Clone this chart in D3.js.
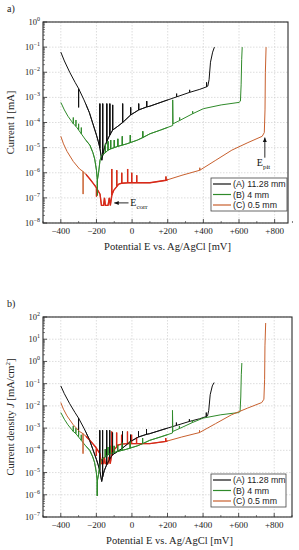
<!DOCTYPE html>
<html>
<head>
<meta charset="utf-8">
<script src="https://cdn.jsdelivr.net/npm/d3@7"></script>
<style>
  body { margin: 0; background: #fff; }
</style>
</head>
<body>
<svg id="chart" width="299" height="550"></svg>
<script>
// potentials in mV vs Ag/AgCl, currents stored as log10 values
const eA = [-400,-380,-350,-320,-300,-300,-300,-270,-240,-220,-200,-190,-181,-181,-181,-170,-165,-165,-165,-155,-142,-142,-142,-125,-125,-125,-109,-109,-109,-80,-53,-53,-53,-8,-8,-8,37,37,37,82,82,82,100,180,250,250,250,323,323,323,380,418,418,418,425,432,440,452,462];
const logIA = [-1.2,-1.55,-2.0,-2.4,-2.65,-3.4,-2.65,-3.1,-3.6,-4.05,-4.5,-4.75,-5.0,-3.25,-5.0,-5.5,-5.3,-3.25,-5.3,-5.0,-4.75,-3.25,-4.75,-4.5,-3.25,-4.5,-4.3,-3.3,-4.3,-4.15,-4.0,-3.25,-4.0,-3.7,-3.4,-3.7,-3.5,-3.25,-3.5,-3.38,-3.15,-3.38,-3.35,-3.15,-2.98,-2.85,-2.98,-2.8,-2.7,-2.8,-2.68,-2.58,-2.4,-2.58,-2.55,-2.3,-1.6,-1.2,-1.0];
const logJA = [-1.1,-1.45,-1.9,-2.3,-2.55,-3.3,-2.55,-3.0,-3.5,-3.95,-4.4,-4.65,-4.9,-3.1,-4.9,-5.4,-5.2,-3.1,-5.2,-4.9,-4.65,-3.1,-4.65,-4.4,-3.1,-4.4,-4.2,-3.2,-4.2,-4.05,-3.9,-3.15,-3.9,-3.6,-3.3,-3.6,-3.4,-3.15,-3.4,-3.28,-3.05,-3.28,-3.25,-3.05,-2.88,-2.75,-2.88,-2.7,-2.6,-2.7,-2.58,-2.48,-2.3,-2.48,-2.45,-2.2,-1.5,-1.1,-0.95];

const eB = [-400,-380,-360,-340,-330,-330,-330,-315,-315,-315,-300,-300,-300,-285,-285,-285,-260,-237,-220,-210,-200,-195,-195,-195,-188,-180,-170,-150,-150,-150,-135,-135,-135,-120,-120,-120,-100,-100,-100,-80,-80,-80,-55,-55,-55,-30,-10,-10,-10,30,60,60,60,100,160,228,228,230,267,267,267,340,340,340,400,500,600,608,612,615,618];
const logIB = [-3.2,-3.5,-3.75,-3.95,-4.05,-3.8,-4.05,-4.15,-3.9,-4.15,-4.3,-4.05,-4.3,-4.45,-4.2,-4.45,-4.7,-4.9,-5.2,-5.45,-5.9,-6.3,-6.9,-6.3,-6.0,-5.5,-5.3,-5.2,-4.85,-5.2,-5.1,-4.75,-5.1,-5.05,-4.7,-5.05,-5.0,-4.7,-5.0,-4.95,-4.65,-4.95,-4.9,-4.55,-4.9,-4.85,-4.8,-4.5,-4.8,-4.7,-4.6,-4.35,-4.6,-4.45,-4.3,-4.12,-3.1,-4.05,-3.92,-3.8,-3.92,-3.65,-3.55,-3.65,-3.45,-3.3,-3.2,-3.15,-2.5,-1.5,-1.0];
const logJB = [-2.3,-2.6,-2.85,-3.05,-3.15,-2.9,-3.15,-3.25,-3.0,-3.25,-3.4,-3.15,-3.4,-3.55,-3.3,-3.55,-3.8,-4.0,-4.3,-4.55,-5.0,-5.4,-6.05,-5.4,-5.1,-4.6,-4.4,-4.3,-3.95,-4.3,-4.2,-3.85,-4.2,-4.15,-3.8,-4.15,-4.1,-3.8,-4.1,-4.05,-3.75,-4.05,-4.0,-3.65,-4.0,-3.95,-3.9,-3.6,-3.9,-3.8,-3.7,-3.45,-3.7,-3.55,-3.4,-3.22,-2.2,-3.15,-3.02,-2.9,-3.02,-2.75,-2.65,-2.75,-2.55,-2.4,-2.3,-2.25,-1.6,-0.6,-0.07];

const eC = [-400,-385,-365,-330,-295,-275,-275,-275,-255,-237,-215,-200,-200,-200,-180,-172,-160,-155,-150,-135,-128,-122,-114,-114,-114,-103,-86,-86,-86,-75,-58,-58,-58,-25,-25,-25,-2,-2,-2,26,26,26,60,100,190,190,190,280,380,380,380,470,560,650,730,742,746,748,752];
const logIC = [-4.55,-4.85,-5.15,-5.55,-5.85,-5.95,-6.85,-5.95,-6.1,-6.25,-6.45,-6.6,-6.95,-6.6,-6.85,-7.3,-7.3,-7.0,-7.3,-7.3,-7.0,-7.3,-6.9,-5.85,-6.9,-6.7,-6.55,-5.9,-6.55,-6.45,-6.42,-6.0,-6.42,-6.4,-5.85,-6.4,-6.4,-6.0,-6.4,-6.4,-6.1,-6.4,-6.4,-6.4,-6.3,-6.15,-6.3,-6.1,-5.9,-5.8,-5.9,-5.5,-5.1,-4.8,-4.55,-4.4,-3.5,-2.0,-1.0];
const logJC = [-1.85,-2.15,-2.45,-2.85,-3.15,-3.25,-4.15,-3.25,-3.4,-3.55,-3.75,-3.9,-4.25,-3.9,-4.15,-4.6,-4.6,-4.3,-4.6,-4.6,-4.3,-4.6,-4.2,-3.15,-4.2,-4.0,-3.85,-3.2,-3.85,-3.75,-3.72,-3.3,-3.72,-3.7,-3.15,-3.7,-3.7,-3.3,-3.7,-3.7,-3.4,-3.7,-3.7,-3.7,-3.6,-3.45,-3.6,-3.4,-3.2,-3.1,-3.2,-2.8,-2.4,-2.1,-1.85,-1.7,-0.8,0.7,1.73];

const seriesNames = ["(A) 11.28 mm", "(B) 4 mm", "(C) 0.5 mm"];
const seriesColors = ["#111111", "#2f8a2a", "#c8602e"];
const noiseColor = "#d8281a";
const noiseRange = [-260, 200];
const xTicks = [-400, -200, 0, 200, 400, 600, 800];

const svg = d3.select("#chart");
const serif = "'Liberation Serif', 'DejaVu Serif', serif";
const sans = "'Liberation Sans', Arial, sans-serif";

svg.append("rect").attr("width", 299).attr("height", 550).attr("fill", "#fff");

function drawPanel(o) {
  const x = d3.scaleLinear().domain(o.xDom).range([o.left, o.right]);
  const y = d3.scaleLog().domain([10 ** o.expLo, 10 ** o.expHi]).range([o.bottom, o.top]);
  const g = svg.append("g");
  const exps = d3.range(o.expLo, o.expHi + 1);

  const clipId = "clip-" + o.name;
  g.append("clipPath").attr("id", clipId).append("rect")
    .attr("x", o.left).attr("y", o.top)
    .attr("width", o.right - o.left).attr("height", o.bottom - o.top);

  // grid
  g.selectAll(".gx").data(xTicks).join("line")
    .attr("x1", d => x(d)).attr("x2", d => x(d))
    .attr("y1", o.top).attr("y2", o.bottom)
    .attr("stroke", "#cfcfcf").attr("stroke-width", 0.7).attr("stroke-dasharray", "1.5,1.5");
  g.selectAll(".gy").data(exps).join("line")
    .attr("x1", o.left).attr("x2", o.right)
    .attr("y1", d => y(10 ** d)).attr("y2", d => y(10 ** d))
    .attr("stroke", "#cfcfcf").attr("stroke-width", 0.7).attr("stroke-dasharray", "1.5,1.5");

  // curves
  const line = d3.line().x(d => x(d[0])).y(d => y(10 ** d[1]));
  const plot = g.append("g").attr("clip-path", `url(#${clipId})`);
  o.series.forEach((s, i) => {
    plot.append("path").datum(d3.zip(s[0], s[1]))
      .attr("d", line).attr("fill", "none")
      .attr("stroke", seriesColors[i]).attr("stroke-width", 1)
      .attr("stroke-linejoin", "round");
  });
  // red stretch of curve C near E_corr
  const noiseClip = "noise-" + o.name;
  g.append("clipPath").attr("id", noiseClip).append("rect")
    .attr("x", x(noiseRange[0])).attr("y", o.top)
    .attr("width", x(noiseRange[1]) - x(noiseRange[0])).attr("height", o.bottom - o.top);
  g.append("path").datum(d3.zip(o.series[2][0], o.series[2][1]))
    .attr("clip-path", `url(#${noiseClip})`)
    .attr("d", line).attr("fill", "none")
    .attr("stroke", noiseColor).attr("stroke-width", 1.4);
  // redraw black & green above the red where they overlap
  o.series.slice(0, 2).forEach((s, i) => {
    g.append("path").datum(d3.zip(s[0], s[1]))
      .attr("clip-path", `url(#${noiseClip})`)
      .attr("d", line).attr("fill", "none")
      .attr("stroke", seriesColors[i]).attr("stroke-width", 1)
      .attr("opacity", 0.85);
  });

  // frame
  g.append("rect").attr("x", o.left).attr("y", o.top)
    .attr("width", o.right - o.left).attr("height", o.bottom - o.top)
    .attr("fill", "none").attr("stroke", "#2a2a2a").attr("stroke-width", 1.1);

  // y ticks (inward), major + minor
  g.selectAll(".ty").data(exps).join("line")
    .attr("x1", o.left).attr("x2", o.left + 4)
    .attr("y1", d => y(10 ** d)).attr("y2", d => y(10 ** d))
    .attr("stroke", "#2a2a2a").attr("stroke-width", 0.8);
  const minors = [];
  exps.slice(0, -1).forEach(p => d3.range(2, 10).forEach(m => minors.push(m * 10 ** p)));
  g.selectAll(".tym").data(minors).join("line")
    .attr("x1", o.left).attr("x2", o.left + 2)
    .attr("y1", d => y(d)).attr("y2", d => y(d))
    .attr("stroke", "#2a2a2a").attr("stroke-width", 0.6);

  const yl = g.selectAll(".yl").data(exps).join("text")
    .attr("x", o.left - 3).attr("y", d => y(10 ** d) + 3)
    .attr("text-anchor", "end").attr("font-family", serif)
    .attr("font-size", 8.5).attr("fill", "#222");
  yl.append("tspan").text("10");
  yl.append("tspan").attr("dy", -4).attr("font-size", 6)
    .text(d => (d < 0 ? "\u2212" : "") + Math.abs(d));

  // x ticks
  g.selectAll(".tx").data(xTicks).join("line")
    .attr("x1", d => x(d)).attr("x2", d => x(d))
    .attr("y1", o.bottom).attr("y2", o.bottom - 4)
    .attr("stroke", "#2a2a2a").attr("stroke-width", 0.8);
  g.selectAll(".txm").data(xTicks.map(d => d - 100).concat([xTicks[xTicks.length - 1] + 100])).join("line")
    .attr("x1", d => x(d)).attr("x2", d => x(d))
    .attr("y1", o.bottom).attr("y2", o.bottom - 2)
    .attr("stroke", "#2a2a2a").attr("stroke-width", 0.6);
  g.selectAll(".xl").data(xTicks).join("text")
    .attr("x", d => x(d)).attr("y", o.bottom + 11)
    .attr("text-anchor", "middle").attr("font-family", serif)
    .attr("font-size", 9).attr("fill", "#222")
    .text(d => d < 0 ? "\u2212" + Math.abs(d) : (d > 0 ? "+" + d : "0"));

  // titles
  g.append("text").attr("x", (o.left + o.right) / 2 + 2).attr("y", o.bottom + 27)
    .attr("text-anchor", "middle").attr("font-family", serif)
    .attr("font-size", 10.5).attr("fill", "#222")
    .text("Potential E vs. Ag/AgCl [mV]");
  const yt = g.append("text")
    .attr("transform", `translate(14,${(o.top + o.bottom) / 2}) rotate(-90)`)
    .attr("text-anchor", "middle").attr("font-family", serif)
    .attr("font-size", 10.5).attr("fill", "#222");
  o.yTitle(yt);

  g.append("text").attr("x", 7).attr("y", o.top - 10)
    .attr("font-family", serif).attr("font-size", 10).attr("fill", "#222")
    .text(o.name + ")");

  // legend
  const lg = g.append("g");
  lg.append("rect").attr("x", o.leg[0]).attr("y", o.leg[1])
    .attr("width", o.leg[2]).attr("height", o.leg[3])
    .attr("fill", "#fff").attr("stroke", "#444").attr("stroke-width", 0.8);
  seriesNames.forEach((n, i) => {
    const ry = o.leg[1] + 6 + i * 10.5;
    lg.append("line").attr("x1", o.leg[0] + 2).attr("x2", o.leg[0] + 20)
      .attr("y1", ry).attr("y2", ry)
      .attr("stroke", seriesColors[i]).attr("stroke-width", 1.2);
    lg.append("text").attr("x", o.leg[0] + 22).attr("y", ry + 3.2)
      .attr("font-family", sans).attr("font-size", 8.8).attr("fill", "#222")
      .text(n);
  });
  return { x, y, g };
}

const pa = drawPanel({
  name: "a", left: 43, right: 288, top: 22, bottom: 223,
  xDom: [-500, 875], expLo: -8, expHi: 0,
  series: [[eA, logIA], [eB, logIB], [eC, logIC]],
  leg: [211, 178, 76, 33],
  yTitle: t => t.text("Current I [mA]")
});

drawPanel({
  name: "b", left: 43, right: 292, top: 317, bottom: 517,
  xDom: [-500, 900], expLo: -7, expHi: 2,
  series: [[eA, logJA], [eB, logJB], [eC, logJC]],
  leg: [211, 474, 75, 33],
  yTitle: t => {
    t.append("tspan").text("Current density ");
    t.append("tspan").attr("font-style", "italic").text("J");
    t.append("tspan").text(" [mA/cm");
    t.append("tspan").attr("dy", -4).attr("font-size", 7).text("2");
    t.append("tspan").attr("dy", 4).text("]");
  }
});

// annotations in panel a
function arrow(g, x1, y1, x2, y2) {
  g.append("line").attr("x1", x1).attr("y1", y1).attr("x2", x2).attr("y2", y2)
    .attr("stroke", "#111").attr("stroke-width", 0.9);
  const a = Math.atan2(y2 - y1, x2 - x1);
  const L = 4.5, W = 2;
  const p = [[x2, y2],
    [x2 - L * Math.cos(a) + W * Math.sin(a), y2 - L * Math.sin(a) - W * Math.cos(a)],
    [x2 - L * Math.cos(a) - W * Math.sin(a), y2 - L * Math.sin(a) + W * Math.cos(a)]];
  g.append("path").attr("d", "M" + p.join("L") + "Z").attr("fill", "#111");
}
const ann = svg.append("g");
arrow(ann, pa.x(-20), pa.y(10 ** -7.2), pa.x(-100), pa.y(10 ** -7.2));
const ec = ann.append("text").attr("x", pa.x(-10)).attr("y", pa.y(10 ** -7.2) + 3.5)
  .attr("font-family", serif).attr("font-size", 10).attr("fill", "#111");
ec.append("tspan").text("E");
ec.append("tspan").attr("dy", 2.5).attr("font-size", 7).text("corr");

arrow(ann, pa.x(745), pa.y(10 ** -5.4), pa.x(745), pa.y(10 ** -4.6));
const ep = ann.append("text").attr("x", pa.x(700)).attr("y", pa.y(10 ** -5.75))
  .attr("font-family", serif).attr("font-size", 10).attr("fill", "#111");
ep.append("tspan").text("E");
ep.append("tspan").attr("dy", 2.5).attr("font-size", 7).text("pit");
</script>
</body>
</html>
